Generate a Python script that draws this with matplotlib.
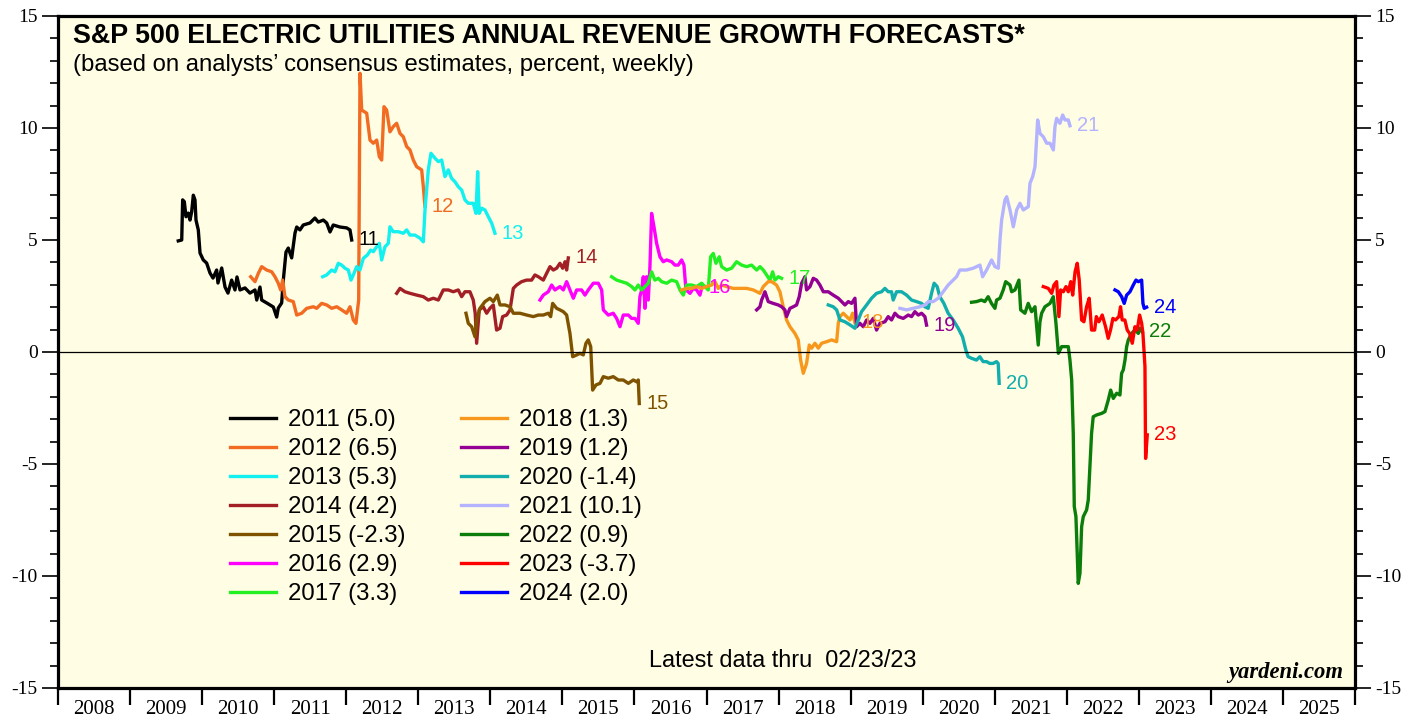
import numpy as np
import matplotlib.pyplot as plt

# forecast years, latest values (legend), and colors
years = [2011, 2012, 2013, 2014, 2015, 2016, 2017, 2018, 2019, 2020, 2021, 2022, 2023, 2024]
latest = [5.0, 6.5, 5.3, 4.2, -2.3, 2.9, 3.3, 1.3, 1.2, -1.4, 10.1, 0.9, -3.7, 2.0]
colors = ['#000000', '#f26b23', '#12f0f0', '#a31f26', '#7f5200', '#ff00ff', '#22f022',
          '#f7981d', '#930093', '#12adad', '#b3b3ff', '#0a7d0a', '#ff0000', '#0000ff']

# weekly forecasts: (decimal year, percent)
s2011 = [(2009.669, 4.96), (2009.717, 5.00), (2009.730, 6.79), (2009.753, 6.71), (2009.776, 6.04),
         (2009.808, 6.20), (2009.832, 5.89), (2009.855, 6.26), (2009.878, 7.00), (2009.901, 6.79),
         (2009.915, 5.89), (2009.947, 5.45), (2009.971, 4.42), (2010.016, 4.11), (2010.063, 3.97),
         (2010.109, 3.53), (2010.151, 3.30), (2010.202, 3.66), (2010.220, 3.08), (2010.272, 3.75),
         (2010.318, 2.90), (2010.359, 2.63), (2010.410, 3.21), (2010.456, 2.77), (2010.484, 3.35),
         (2010.526, 2.77), (2010.595, 2.86), (2010.664, 2.63), (2010.734, 2.77), (2010.758, 2.32),
         (2010.803, 2.90), (2010.827, 2.32), (2010.896, 2.19), (2010.988, 2.01), (2011.035, 1.56),
         (2011.057, 1.96), (2011.104, 2.19), (2011.127, 3.21), (2011.164, 4.46), (2011.196, 4.64),
         (2011.243, 4.20), (2011.289, 5.31), (2011.313, 5.58), (2011.358, 5.45), (2011.404, 5.67),
         (2011.497, 5.76), (2011.566, 5.98), (2011.612, 5.80), (2011.682, 5.89), (2011.729, 5.76),
         (2011.775, 5.36), (2011.820, 5.67), (2011.913, 5.58), (2012.006, 5.54), (2012.052, 5.45),
         (2012.076, 5.00)]
s2012 = [(2010.674, 3.36), (2010.734, 3.14), (2010.780, 3.51), (2010.827, 3.81), (2010.896, 3.66),
         (2010.966, 3.58), (2011.011, 3.36), (2011.057, 3.07), (2011.090, 2.77), (2011.118, 3.21),
         (2011.150, 2.47), (2011.196, 2.32), (2011.265, 2.25), (2011.313, 1.65), (2011.382, 1.73),
         (2011.452, 1.95), (2011.543, 2.02), (2011.590, 1.95), (2011.659, 2.17), (2011.729, 2.10),
         (2011.798, 1.95), (2011.868, 2.02), (2011.937, 1.88), (2012.006, 1.73), (2012.052, 2.02),
         (2012.098, 1.43), (2012.135, 1.28), (2012.173, 2.32), (2012.191, 12.44), (2012.215, 10.80),
         (2012.284, 10.66), (2012.330, 9.46), (2012.376, 9.32), (2012.423, 9.46), (2012.459, 8.72),
         (2012.492, 8.57), (2012.524, 10.95), (2012.561, 10.80), (2012.607, 9.83), (2012.653, 10.06),
         (2012.700, 10.21), (2012.746, 9.76), (2012.792, 9.61), (2012.839, 9.17), (2012.885, 9.02),
         (2012.931, 8.57), (2012.978, 8.27), (2013.047, 8.13), (2013.070, 7.38), (2013.093, 6.50)]
s2013 = [(2011.673, 3.36), (2011.729, 3.44), (2011.798, 3.66), (2011.844, 3.58), (2011.890, 3.96),
         (2011.937, 3.88), (2011.983, 3.74), (2012.029, 3.66), (2012.066, 3.21), (2012.108, 3.51),
         (2012.145, 3.81), (2012.191, 3.66), (2012.237, 4.18), (2012.293, 4.33), (2012.340, 4.55),
         (2012.376, 4.48), (2012.423, 4.70), (2012.459, 4.85), (2012.492, 4.11), (2012.538, 4.70),
         (2012.584, 4.85), (2012.607, 5.59), (2012.653, 5.37), (2012.723, 5.37), (2012.792, 5.30),
         (2012.839, 5.45), (2012.885, 5.22), (2012.954, 5.22), (2013.024, 5.08), (2013.070, 4.92),
         (2013.093, 6.34), (2013.139, 8.13), (2013.176, 8.87), (2013.232, 8.65), (2013.278, 8.50),
         (2013.325, 8.57), (2013.370, 7.83), (2013.417, 8.13), (2013.463, 7.75), (2013.509, 7.60),
         (2013.555, 7.38), (2013.602, 7.23), (2013.648, 6.79), (2013.694, 6.64), (2013.763, 6.64),
         (2013.801, 6.19), (2013.824, 8.05), (2013.846, 6.19), (2013.880, 6.42), (2013.926, 6.34),
         (2013.972, 6.04), (2014.019, 5.75), (2014.064, 5.30)]
s2014 = [(2012.700, 2.62), (2012.746, 2.84), (2012.815, 2.69), (2012.885, 2.62), (2012.978, 2.54),
         (2013.070, 2.47), (2013.139, 2.32), (2013.209, 2.40), (2013.278, 2.32), (2013.347, 2.77),
         (2013.417, 2.77), (2013.486, 2.69), (2013.555, 2.77), (2013.602, 2.47), (2013.648, 2.69),
         (2013.717, 2.69), (2013.763, 2.32), (2013.790, 1.73), (2013.810, 0.39), (2013.846, 1.88),
         (2013.902, 2.02), (2013.949, 1.73), (2013.995, 1.95), (2014.041, 2.10), (2014.087, 0.98),
         (2014.134, 1.06), (2014.171, 1.58), (2014.226, 1.65), (2014.273, 1.88), (2014.319, 2.84),
         (2014.365, 2.99), (2014.434, 3.14), (2014.504, 3.21), (2014.573, 3.21), (2014.619, 3.44),
         (2014.666, 3.36), (2014.735, 3.21), (2014.781, 3.51), (2014.828, 3.81), (2014.874, 3.66),
         (2014.920, 3.74), (2014.966, 3.96), (2015.004, 3.74), (2015.036, 4.03), (2015.059, 3.66),
         (2015.082, 4.20)]
s2015 = [(2013.662, 1.73), (2013.694, 1.28), (2013.741, 1.13), (2013.787, 0.68), (2013.810, 1.43),
         (2013.856, 1.95), (2013.926, 2.25), (2013.995, 2.40), (2014.041, 2.25), (2014.097, 2.54),
         (2014.134, 2.10), (2014.204, 2.10), (2014.273, 2.02), (2014.319, 1.73), (2014.411, 1.73),
         (2014.504, 1.65), (2014.596, 1.58), (2014.666, 1.65), (2014.735, 1.65), (2014.804, 1.73),
         (2014.837, 1.58), (2014.865, 2.17), (2014.920, 1.95), (2014.966, 1.88), (2015.013, 1.80),
         (2015.059, 1.65), (2015.105, 0.83), (2015.143, -0.21), (2015.198, -0.13), (2015.244, -0.06),
         (2015.290, -0.13), (2015.327, 0.39), (2015.359, 0.54), (2015.393, 0.24), (2015.420, -1.70),
         (2015.466, -1.47), (2015.522, -1.40), (2015.568, -1.10), (2015.637, -1.17), (2015.706, -1.10),
         (2015.776, -1.25), (2015.845, -1.25), (2015.915, -1.40), (2015.984, -1.25), (2016.031, -1.33),
         (2016.053, -1.25), (2016.067, -2.30)]
s2016 = [(2014.689, 2.32), (2014.735, 2.54), (2014.804, 2.69), (2014.851, 2.99), (2014.897, 2.77),
         (2014.966, 2.92), (2015.013, 2.77), (2015.059, 3.14), (2015.105, 2.77), (2015.152, 2.40),
         (2015.198, 2.77), (2015.267, 2.77), (2015.313, 2.54), (2015.359, 2.77), (2015.429, 3.07),
         (2015.498, 3.07), (2015.545, 2.77), (2015.568, 1.88), (2015.637, 1.65), (2015.706, 1.73),
         (2015.753, 1.50), (2015.799, 1.13), (2015.845, 1.65), (2015.915, 1.65), (2015.961, 1.50),
         (2016.007, 1.50), (2016.053, 1.28), (2016.076, 2.47), (2016.100, 2.77), (2016.123, 3.36),
         (2016.146, 1.95), (2016.169, 3.36), (2016.192, 2.32), (2016.215, 3.81), (2016.238, 6.19),
         (2016.271, 5.59), (2016.308, 4.85), (2016.354, 4.25), (2016.400, 4.03), (2016.447, 4.11),
         (2016.516, 4.03), (2016.562, 3.88), (2016.608, 3.88), (2016.655, 4.11), (2016.687, 3.88),
         (2016.715, 2.77), (2016.771, 2.62), (2016.817, 2.84), (2016.863, 2.77), (2016.909, 2.54),
         (2016.937, 2.90)]
s2017 = [(2015.683, 3.36), (2015.753, 3.21), (2015.822, 3.14), (2015.892, 3.07), (2015.961, 2.92),
         (2016.007, 2.77), (2016.053, 2.99), (2016.100, 2.77), (2016.146, 2.92), (2016.192, 3.07),
         (2016.238, 3.58), (2016.284, 3.21), (2016.331, 3.29), (2016.377, 3.14), (2016.447, 3.07),
         (2016.516, 3.21), (2016.585, 3.14), (2016.632, 2.77), (2016.678, 2.54), (2016.724, 2.99),
         (2016.794, 2.99), (2016.863, 2.92), (2016.932, 3.07), (2016.978, 2.92), (2017.024, 2.77),
         (2017.057, 4.25), (2017.094, 4.40), (2017.131, 3.96), (2017.177, 4.25), (2017.210, 3.81),
         (2017.279, 3.66), (2017.349, 3.74), (2017.418, 4.03), (2017.487, 3.88), (2017.557, 3.81),
         (2017.626, 3.88), (2017.696, 3.66), (2017.742, 3.81), (2017.788, 3.66), (2017.834, 3.44),
         (2017.880, 3.21), (2017.918, 3.58), (2017.950, 3.21), (2017.996, 3.36), (2018.042, 3.29)]
s2018 = [(2016.655, 2.77), (2016.724, 2.84), (2016.794, 2.84), (2016.863, 2.92), (2016.932, 2.84),
         (2017.001, 2.92), (2017.071, 2.99), (2017.117, 3.14), (2017.163, 2.84), (2017.210, 2.99),
         (2017.279, 2.92), (2017.372, 2.84), (2017.464, 2.84), (2017.557, 2.84), (2017.649, 2.77),
         (2017.742, 2.62), (2017.788, 2.92), (2017.857, 3.14), (2017.904, 3.14), (2017.972, 2.99),
         (2018.019, 2.69), (2018.065, 2.02), (2018.111, 1.43), (2018.158, 1.13), (2018.227, 0.83),
         (2018.273, 0.54), (2018.306, -0.36), (2018.343, -0.95), (2018.389, -0.51), (2018.426, 0.31),
         (2018.459, 0.17), (2018.505, 0.39), (2018.551, 0.17), (2018.598, 0.39), (2018.667, 0.46),
         (2018.737, 0.54), (2018.806, 0.46), (2018.829, 1.28), (2018.852, 1.58), (2018.898, 1.73),
         (2018.945, 1.58), (2018.991, 1.43), (2019.028, 1.73), (2019.060, 1.30)]
s2019 = [(2017.696, 1.88), (2017.742, 2.02), (2017.765, 2.32), (2017.811, 2.69), (2017.857, 2.25),
         (2017.926, 2.17), (2017.996, 2.10), (2018.042, 2.02), (2018.088, 1.88), (2018.111, 1.58),
         (2018.158, 1.95), (2018.204, 2.02), (2018.250, 2.10), (2018.287, 2.47), (2018.320, 3.07),
         (2018.366, 3.36), (2018.389, 2.77), (2018.436, 2.92), (2018.482, 3.29), (2018.528, 3.21),
         (2018.574, 2.99), (2018.621, 2.69), (2018.690, 2.69), (2018.759, 2.54), (2018.829, 2.40),
         (2018.875, 2.25), (2018.921, 2.10), (2018.968, 2.25), (2019.014, 2.17), (2019.060, 2.40),
         (2019.083, 1.13), (2019.129, 1.28), (2019.176, 1.13), (2019.222, 1.43), (2019.268, 1.28),
         (2019.314, 1.50), (2019.360, 0.98), (2019.407, 1.28), (2019.476, 1.35), (2019.522, 1.58),
         (2019.568, 1.43), (2019.615, 1.73), (2019.661, 1.58), (2019.730, 1.50), (2019.800, 1.65),
         (2019.846, 1.58), (2019.892, 1.80), (2019.939, 1.65), (2019.985, 1.73), (2020.031, 1.58),
         (2020.054, 1.20)]
s2020 = [(2018.690, 2.10), (2018.759, 2.02), (2018.806, 1.88), (2018.852, 1.43), (2018.921, 1.35),
         (2018.991, 1.21), (2019.060, 1.06), (2019.106, 1.43), (2019.152, 1.80), (2019.222, 2.10),
         (2019.291, 2.40), (2019.360, 2.62), (2019.430, 2.69), (2019.476, 2.84), (2019.522, 2.69),
         (2019.568, 2.69), (2019.591, 2.32), (2019.638, 2.69), (2019.707, 2.69), (2019.777, 2.54),
         (2019.846, 2.32), (2019.915, 2.25), (2019.985, 2.17), (2020.031, 2.02), (2020.077, 1.95),
         (2020.123, 2.62), (2020.159, 3.07), (2020.201, 2.92), (2020.238, 2.47), (2020.294, 2.17),
         (2020.354, 1.73), (2020.423, 1.43), (2020.493, 1.06), (2020.553, 0.68), (2020.599, 0.09),
         (2020.631, -0.21), (2020.678, -0.28), (2020.747, -0.36), (2020.793, -0.21), (2020.839, -0.43),
         (2020.886, -0.43), (2020.932, -0.51), (2020.978, -0.51), (2021.025, -0.43), (2021.048, -0.51),
         (2021.062, -1.40)]
s2021 = [(2019.684, 1.95), (2019.777, 1.88), (2019.869, 1.95), (2019.962, 2.02), (2020.031, 2.10),
         (2020.077, 2.25), (2020.146, 2.25), (2020.216, 2.40), (2020.285, 2.69), (2020.354, 2.99),
         (2020.423, 3.21), (2020.470, 3.36), (2020.516, 3.66), (2020.608, 3.66), (2020.701, 3.74),
         (2020.795, 3.88), (2020.832, 3.36), (2020.887, 3.66), (2020.957, 4.11), (2021.003, 3.81),
         (2021.050, 3.74), (2021.073, 5.00), (2021.096, 5.89), (2021.142, 6.79), (2021.166, 6.93),
         (2021.212, 6.34), (2021.258, 5.59), (2021.305, 6.34), (2021.350, 6.64), (2021.397, 6.34),
         (2021.466, 6.49), (2021.489, 7.53), (2021.527, 7.83), (2021.559, 8.27), (2021.596, 10.36),
         (2021.628, 9.76), (2021.674, 9.61), (2021.721, 9.32), (2021.767, 9.32), (2021.814, 9.02),
         (2021.836, 10.06), (2021.859, 10.43), (2021.905, 10.21), (2021.943, 10.58), (2021.975, 10.36),
         (2022.021, 10.36), (2022.044, 10.10)]
s2022 = [(2020.678, 2.22), (2020.747, 2.25), (2020.816, 2.32), (2020.862, 2.25), (2020.909, 2.47),
         (2020.955, 2.17), (2021.003, 1.95), (2021.026, 2.32), (2021.073, 2.40), (2021.118, 2.77),
         (2021.152, 3.14), (2021.212, 2.99), (2021.235, 2.69), (2021.281, 2.77), (2021.336, 3.21),
         (2021.360, 1.88), (2021.419, 1.73), (2021.465, 2.17), (2021.512, 1.80), (2021.559, 2.02),
         (2021.604, 0.31), (2021.628, 1.35), (2021.651, 1.73), (2021.697, 2.02), (2021.767, 2.17),
         (2021.813, 2.47), (2021.850, 1.28), (2021.883, -0.06), (2021.929, 0.24), (2022.021, 0.24),
         (2022.044, -0.36), (2022.068, -1.25), (2022.090, -3.63), (2022.104, -6.90), (2022.127, -7.35),
         (2022.145, -8.99), (2022.159, -10.33), (2022.183, -9.88), (2022.206, -7.80), (2022.229, -7.35),
         (2022.275, -7.05), (2022.298, -6.61), (2022.321, -5.12), (2022.344, -3.63), (2022.367, -2.89),
         (2022.414, -2.81), (2022.484, -2.74), (2022.530, -2.66), (2022.576, -2.14), (2022.609, -1.70),
         (2022.646, -2.07), (2022.692, -1.84), (2022.738, -1.92), (2022.761, -0.95), (2022.784, -0.80),
         (2022.808, -0.36), (2022.831, 0.24), (2022.854, 0.54), (2022.900, 0.83), (2022.946, 0.98),
         (2022.993, 0.83), (2023.016, 1.06), (2023.047, 0.90)]
s2023 = [(2021.674, 2.92), (2021.743, 2.84), (2021.790, 2.62), (2021.822, 2.99), (2021.859, 3.14),
         (2021.891, 1.58), (2021.915, 2.77), (2021.952, 2.69), (2021.989, 2.92), (2022.021, 2.69),
         (2022.055, 3.14), (2022.082, 2.54), (2022.115, 3.58), (2022.145, 3.96), (2022.173, 3.21),
         (2022.206, 1.43), (2022.238, 1.35), (2022.275, 2.02), (2022.311, 2.40), (2022.344, 0.98),
         (2022.387, 0.98), (2022.410, 1.58), (2022.446, 1.35), (2022.492, 1.65), (2022.538, 1.13),
         (2022.575, 0.61), (2022.607, 0.98), (2022.640, 1.50), (2022.676, 1.43), (2022.723, 1.58),
         (2022.746, 2.02), (2022.769, 1.43), (2022.806, 1.43), (2022.839, 0.98), (2022.872, 0.83),
         (2022.909, 0.39), (2022.946, 1.13), (2022.978, 0.98), (2023.011, 1.65), (2023.039, 1.28),
         (2023.057, 0.83), (2023.085, -0.65), (2023.094, -4.75), (2023.117, -3.70)]
s2024 = [(2022.669, 2.77), (2022.715, 2.69), (2022.761, 2.47), (2022.797, 2.17), (2022.831, 2.54),
         (2022.877, 2.69), (2022.923, 2.99), (2022.960, 3.21), (2022.993, 3.14), (2023.039, 3.21),
         (2023.057, 2.17), (2023.075, 1.95), (2023.108, 2.00)]

series = [s2011, s2012, s2013, s2014, s2015, s2016, s2017,
          s2018, s2019, s2020, s2021, s2022, s2023, s2024]

plt.rcParams['font.family'] = ['Liberation Sans', 'DejaVu Sans']
plt.rcParams['axes.unicode_minus'] = False

W, H = 1419, 719
fig = plt.figure(figsize=(W / 100, H / 100), dpi=100)
ax = fig.add_axes([58 / W, 1 - 688 / H, 1297 / W, 672 / H])
ax.set_facecolor('#fffde3')

for yr, pts, col, last in zip(years, series, colors, latest):
    t, v = np.array(pts).T
    ax.plot(t, v, color=col, lw=2.4, label=f'{yr} ({last:.1f})')
    ax.annotate(str(yr)[2:], (t[-1], v[-1]), xytext=(5, 0), textcoords='offset points',
                ha='left', va='center', color=col, fontsize=14.5)

ax.axhline(0, color='black', lw=0.9)
ax.set_xlim(2008, 2026)
ax.set_ylim(-15, 15)

# x axis: ticks at year boundaries, labels mid-year
ax.set_xticks(range(2008, 2027))
ax.set_xticklabels([])
ax.set_xticks(np.arange(2008.5, 2026, 1), minor=True)
ax.set_xticklabels([str(y) for y in range(2008, 2026)], minor=True)
ax.tick_params(axis='x', which='major', direction='out', length=12, width=1.6)
ax.tick_params(axis='x', which='minor', length=0, pad=9, labelsize=15,
               labelfontfamily='Liberation Serif')

# y axis on both sides
ax.set_yticks(range(-15, 16, 5))
ax.set_yticks(range(-15, 16), minor=True)
ax.tick_params(axis='y', which='both', direction='out', left=True, right=True,
               labelleft=True, labelright=True)
ax.tick_params(axis='y', which='major', length=11.5, width=1.2, pad=3, labelsize=14,
               labelfontfamily='Liberation Serif')
ax.tick_params(axis='y', which='minor', length=5.5, width=1.2)

for sp in ax.spines.values():
    sp.set_linewidth(2.3)

ax.text(0.0116, 0.9598, 'S&P 500 ELECTRIC UTILITIES ANNUAL REVENUE GROWTH FORECASTS*',
        transform=ax.transAxes, fontsize=19.4, fontweight='bold', va='baseline')
ax.text(0.0116, 0.9186, '(based on analysts\u2019 consensus estimates, percent, weekly)',
        transform=ax.transAxes, fontsize=17.2, va='baseline')
ax.text(0.559, 0.031, 'Latest data thru  02/23/23', transform=ax.transAxes,
        fontsize=16.9, ha='center', va='baseline')
ax.text(0.9907, 0.015, 'yardeni.com', transform=ax.transAxes, fontsize=16.3,
        fontfamily='Liberation Serif', fontweight='bold', fontstyle='italic',
        ha='right', va='baseline')

ax.legend(loc='upper left', bbox_to_anchor=(0.1326, 0.415), ncol=2, frameon=False,
          fontsize=17.3, handlelength=1.92, handletextpad=0.5, columnspacing=2.3,
          labelspacing=0.29, borderpad=0, borderaxespad=0)

fig.savefig('out.png', dpi=100)
